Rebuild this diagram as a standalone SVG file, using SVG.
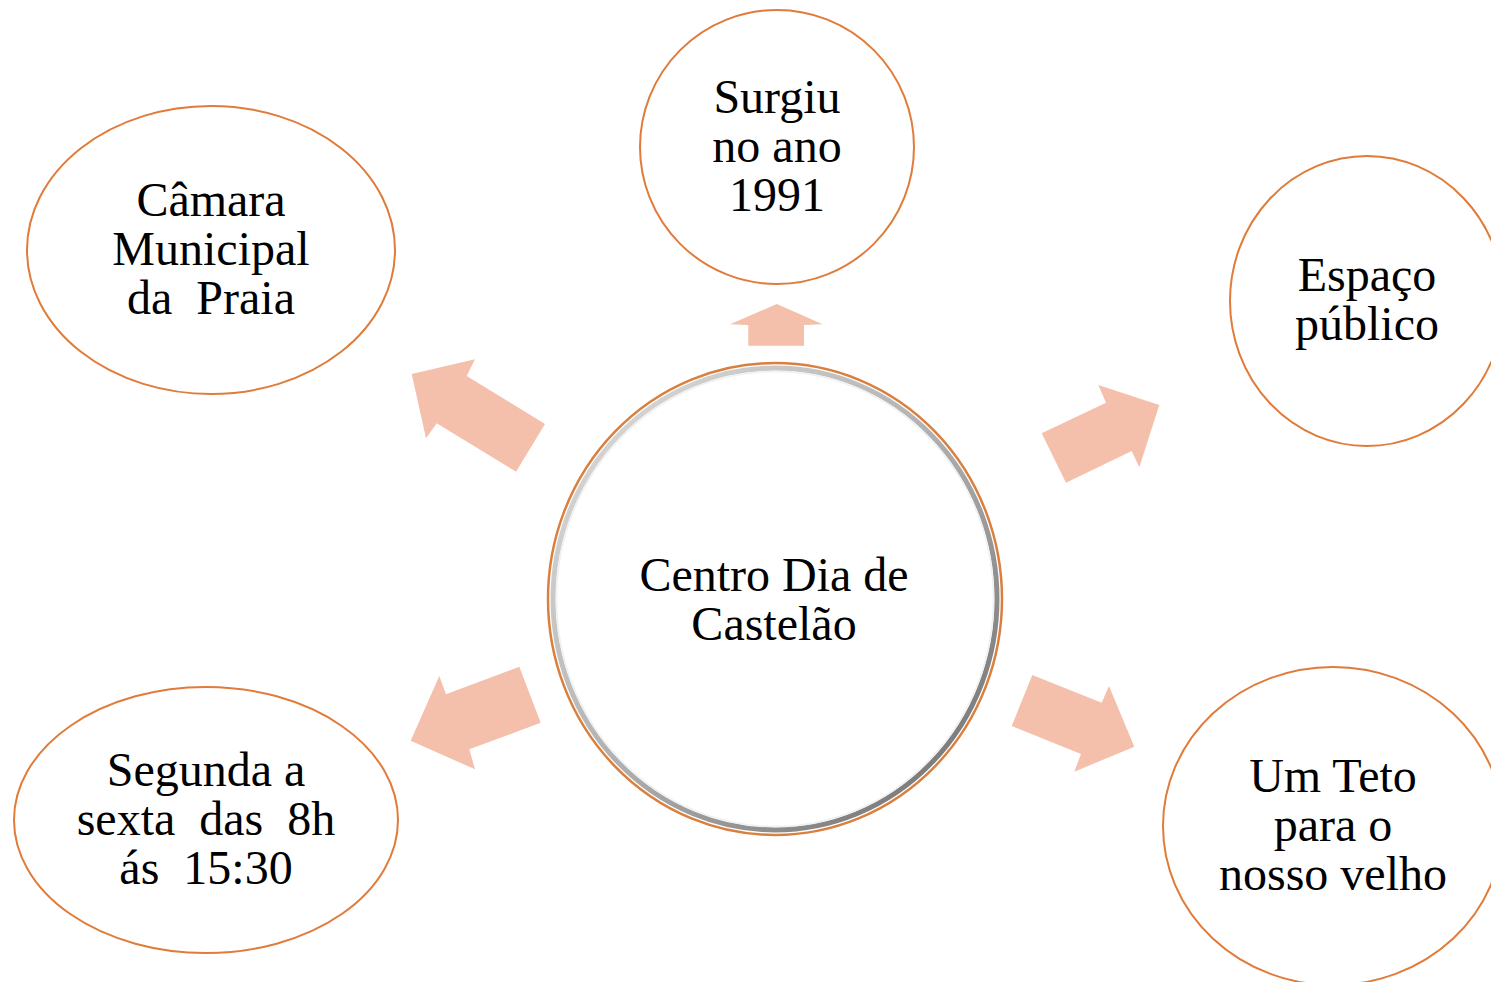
<svg xmlns="http://www.w3.org/2000/svg" width="1491" height="982" viewBox="0 0 1491 982">
<defs>
<style>
.node ellipse.o{fill:#fff;stroke:#E07B39;stroke-width:2}
.t{font-family:"Liberation Serif","Times New Roman",serif;font-size:48px;fill:#000;text-anchor:middle;white-space:pre}
.arr{fill:#F4BFAB}
</style>
<linearGradient id="ring" x1="0" y1="0" x2="1" y2="1">
<stop offset="0" stop-color="#e0e0e0"/>
<stop offset="0.5" stop-color="#b0b0b0"/>
<stop offset="1" stop-color="#6a6a6a"/>
</linearGradient>
</defs>
<rect width="1491" height="982" fill="#fff"/>
<g id="connectors">
<polygon class="arr" points="411.7,374 475,359.3 466.7,376 545,424 516,471.7 436.7,423.3 426,438.3"/>
<polygon class="arr" points="776.7,304 730,324.3 748.3,325 748.3,345.7 804,345.7 804,325 822.7,324.3"/>
<polygon class="arr" points="1159.3,405 1098.3,385 1106,402.7 1041.7,433.3 1066,482.7 1131.7,451 1139.3,467.3"/>
<polygon class="arr" points="410.7,740.7 439.3,676 446,694.3 519.3,666.7 540.7,722.7 469.3,749.3 475,769.3"/>
<polygon class="arr" points="1134.3,746.7 1109,686 1101.7,702.7 1032.3,675 1011.7,726 1081,754 1074.3,771.7"/>
</g>
<g id="center" class="node">
<ellipse cx="775" cy="599" rx="227" ry="236" fill="#fff" stroke="#D9803F" stroke-width="2.5"/>
<ellipse cx="775" cy="599" rx="222" ry="231" fill="none" stroke="url(#ring)" stroke-width="5"/>
<ellipse cx="775" cy="599" rx="218.5" ry="227.5" fill="#fff" stroke="#f0f0f0" stroke-width="1.5"/>
<text class="t" x="774" y="591">Centro Dia de</text>
<text class="t" x="774" y="640">Castelão</text>
</g>
<g id="camara" class="node">
<ellipse class="o" cx="211" cy="250" rx="184" ry="144"/>
<text class="t" x="211" y="216">Câmara</text>
<text class="t" x="211" y="265">Municipal</text>
<text class="t" x="211" y="314">da  Praia</text>
</g>
<g id="surgiu" class="node">
<ellipse class="o" cx="777" cy="147" rx="137" ry="137"/>
<text class="t" x="777" y="113">Surgiu</text>
<text class="t" x="777" y="162">no ano</text>
<text class="t" x="777" y="211">1991</text>
</g>
<g id="espaco" class="node">
<ellipse class="o" cx="1367" cy="301" rx="137" ry="145"/>
<text class="t" x="1367" y="291">Espaço</text>
<text class="t" x="1367" y="340">público</text>
</g>
<g id="segunda" class="node">
<ellipse class="o" cx="206" cy="820" rx="192" ry="133"/>
<text class="t" x="206" y="786">Segunda a</text>
<text class="t" x="206" y="835">sexta  das  8h</text>
<text class="t" x="206" y="884">ás  15:30</text>
</g>
<g id="umteto" class="node">
<ellipse class="o" cx="1333" cy="826" rx="170" ry="159"/>
<text class="t" x="1333" y="792">Um Teto</text>
<text class="t" x="1333" y="841">para o</text>
<text class="t" x="1333" y="890">nosso velho</text>
</g>
</svg>
